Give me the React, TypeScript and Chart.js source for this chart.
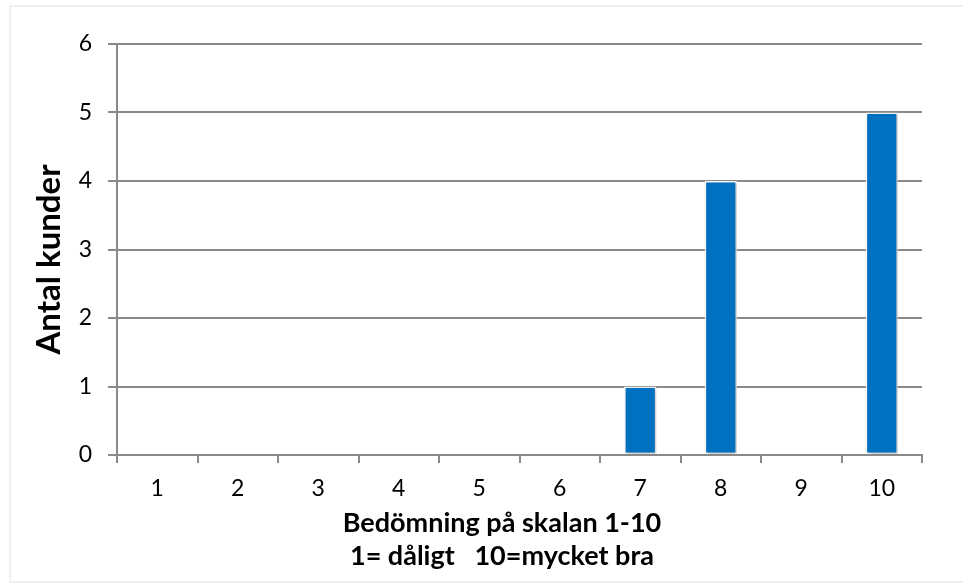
import React, { useEffect, useRef } from "react";
import { Chart, registerables } from "chart.js";

Chart.register(...registerables);

const categories = ["1", "2", "3", "4", "5", "6", "7", "8", "9", "10"];
const counts = [0, 0, 0, 0, 0, 0, 1, 4, 0, 5];
const yTitle = "Antal kunder";
const xTitle = ["Bedömning på skalan 1-10", "1= dåligt   10=mycket bra"];

const W = 963;
const H = 583;
const AREA_LEFT = 117;
const AREA_RIGHT = 922;
const AREA_TOP = 44;
const AREA_BOTTOM = 455;

const FONT = "Lato, 'Open Sans', sans-serif";
const GRID = "#8a8a8a";

const frame = {
  id: "frame",
  beforeDraw(chart: any) {
    const ctx = chart.ctx;
    ctx.save();
    ctx.fillStyle = "#ffffff";
    ctx.fillRect(0, 0, W, H);
    ctx.strokeStyle = "#efefef";
    ctx.lineWidth = 2;
    ctx.strokeRect(10, 6, W + 10, H - 7);
    ctx.restore();
  },
  beforeDatasetDraw(chart: any) {
    const ctx = chart.ctx;
    ctx.save();
    ctx.shadowColor = "rgba(0,0,0,0.28)";
    ctx.shadowBlur = 4;
    ctx.shadowOffsetX = 1.5;
    ctx.shadowOffsetY = 1;
  },
  afterDatasetDraw(chart: any) {
    chart.ctx.restore();
  },
  afterDraw(chart: any) {
    const ctx = chart.ctx;
    const area = chart.chartArea;
    ctx.save();
    ctx.fillStyle = "#000";
    // y axis title
    ctx.font = `bold 33px ${FONT}`;
    ctx.textAlign = "center";
    ctx.textBaseline = "middle";
    ctx.translate(49, (area.top + area.bottom) / 2 + 10);
    ctx.rotate(-Math.PI / 2);
    ctx.fillText(yTitle, 0, 0);
    ctx.restore();
    // x axis title
    ctx.save();
    ctx.fillStyle = "#000";
    ctx.font = `bold 27px ${FONT}`;
    ctx.textAlign = "center";
    ctx.textBaseline = "middle";
    const cx = 502;
    xTitle.forEach((line, i) => {
      ctx.fillText(line, cx, area.bottom + 68.5 + i * 33);
    });
    ctx.restore();
  },
};

export default function App() {
  const ref = useRef<HTMLCanvasElement | null>(null);
  useEffect(() => {
    if (!ref.current) return;
    const chart = new Chart(ref.current, {
      type: "bar",
      data: {
        labels: categories,
        datasets: [
          {
            data: counts,
            backgroundColor: "#0070C0",
            borderColor: "#ffffff",
            borderWidth: 1.5,
            borderSkipped: false,
            categoryPercentage: 1,
            barPercentage: 0.4,
          },
        ],
      },
      options: {
        responsive: false,
        animation: false,
        devicePixelRatio: 1,
        layout: { padding: { left: 0, right: W - AREA_RIGHT, top: AREA_TOP, bottom: 0 } },
        plugins: {
          legend: { display: false },
          tooltip: { enabled: false },
        },
        scales: {
          x: {
            offset: true,
            grid: {
              offset: true,
              drawOnChartArea: false,
              drawTicks: true,
              tickLength: 8,
              color: GRID,
              lineWidth: 2,
            },
            border: { display: true, color: GRID, width: 2 },
            ticks: {
              color: "#000",
              padding: 12,
              font: { family: FONT, size: 23 },
            },
            title: { display: false },
            afterFit(scale: any) {
              scale.height = H - AREA_BOTTOM;
            },
          },
          y: {
            min: 0,
            max: 6,
            ticks: {
              stepSize: 1,
              color: "#000",
              padding: 16,
              font: { family: FONT, size: 23 },
            },
            grid: {
              color: GRID,
              lineWidth: 2,
              tickLength: 9,
            },
            border: { display: true, color: GRID, width: 2 },
            title: { display: false },
            afterFit(scale: any) {
              scale.width = AREA_LEFT;
            },
          },
        },
      },
      plugins: [frame],
    });
    return () => chart.destroy();
  }, []);
  return (
    <div style={{ position: "absolute", left: 0, top: 0, width: W, height: H }}>
      <canvas ref={ref} width={W} height={H} style={{ display: "block" }} />
    </div>
  );
}
